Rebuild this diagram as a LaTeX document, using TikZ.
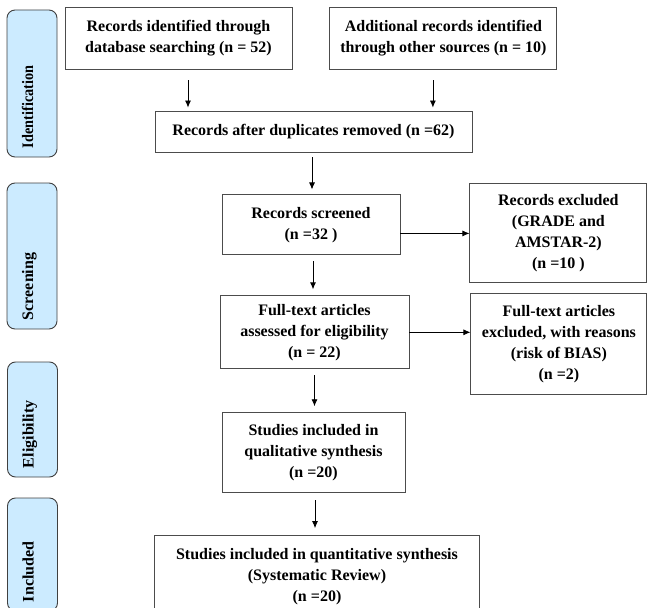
\documentclass[tikz,border=0pt]{standalone}
\usepackage{graphicx}
\usepackage{xcolor}
\usepackage{fontspec}
\setmainfont{Liberation Serif}
\usepackage{tikz}
\usetikzlibrary{arrows.meta, positioning}

\definecolor{phaseblue}{HTML}{CCEBFF}

\begin{document}
\begin{tikzpicture}[
        x=1pt, y=-1pt,
        node distance=40pt and 60pt,
        box/.style={rectangle, draw=black!70, line width=0.9pt, align=center, inner sep=3pt,
            font=\fontsize{16}{21}\selectfont\bfseries},
        phase/.style={rectangle, draw=black!75, fill=phaseblue, line width=0.9pt, rounded corners=8pt,
            rotate=90, minimum height=50pt, inner xsep=9pt, align=left, text height=6pt, text depth=4pt,
            font=\fontsize{16}{21}\selectfont\bfseries},
        every edge/.style={draw, line width=0.8pt, -{Latex[length=7pt,width=6pt]}}
    ]
    \useasboundingbox (0,0) rectangle (647,607);

    % phase labels on the left
    \node[phase, minimum width=147pt, text width=129pt] (ident) at (32,83.5) {\scalebox{0.89}[1]{Identification}};
    \node[phase, minimum width=146pt, text width=128pt] (screen) at (32,256) {Screening};
    \node[phase, minimum width=115pt, text width=97pt] (elig) at (32.5,419.5) {Eligibility};
    \node[phase, minimum width=113pt, text width=95pt] (incl) at (32.5,554.5) {Included};

    % identification
    \node[box, minimum width=227pt, minimum height=62pt] (database) at (178.5,38) {Records identified through\\
        database searching (n = 52)};

    \node[box, minimum width=227pt, minimum height=62pt, right=37pt of database] (other) {Additional records identified\\
        through other sources (n = 10)};

    \node[box, minimum width=317pt, minimum height=41pt] (dedup) at (313.5,131.5) {Records after duplicates removed (n =62)};

    % screening
    \node[box, minimum width=178pt, minimum height=60pt, below=42pt of dedup, xshift=-2.5pt] (screened) {Records screened\\
        (n =32 )};

    \node[box, minimum width=177pt, minimum height=99pt, right=69pt of screened, yshift=-8.5pt] (excluded) {Records excluded\\
        (GRADE and\\
        AMSTAR-2)\\
        (n =10 )};

    \node[box, minimum width=189pt, minimum height=73pt, below=40pt of screened, xshift=3.5pt] (fulltext) {Full-text articles\\
        assessed for eligibility\\
        (n = 22)};

    \node[box, minimum width=176pt, minimum height=101pt, right=61pt of fulltext, yshift=-12pt] (bias) {Full-text articles\\
        excluded, with reasons\\
        (risk of BIAS)\\
        (n =2)};

    % eligibility and included
    \node[box, minimum width=183pt, minimum height=80pt, below=43pt of fulltext, xshift=-1pt] (qualitative) {Studies included in\\
        qualitative synthesis\\
        (n =20)};

    \node[box, minimum width=325pt, minimum height=83pt, below=42pt of qualitative, xshift=3.5pt] (quantitative) {Studies included in quantitative synthesis\\
        (Systematic Review)\\
        (n =20)};

    \draw ([xshift=9.5pt]database.south) edge[shorten <=11pt, shorten >=3pt] ([xshift=9.5pt]database.south |- dedup.north);
    \draw ([xshift=-10.5pt]other.south) edge[shorten <=11pt, shorten >=3pt] ([xshift=-10.5pt]other.south |- dedup.north);
    \draw ([xshift=-1.5pt]dedup.south) edge[shorten <=5pt, shorten >=5pt] ([xshift=-1.5pt]dedup.south |- screened.north);
    \draw ([xshift=2pt]screened.south) edge[shorten <=6pt, shorten >=6pt] ([xshift=2pt]screened.south |- fulltext.north);
    \draw (fulltext.south) edge[shorten <=6pt, shorten >=6pt] (fulltext.south |- qualitative.north);
    \draw ([xshift=1.5pt]qualitative.south) edge[shorten <=7pt, shorten >=7pt] ([xshift=1.5pt]qualitative.south |- quantitative.north);
    \draw (excluded.west -| screened.east) edge (excluded.west);
    \draw (fulltext.east) edge (fulltext.east -| bias.west);

    \end{tikzpicture}
\end{document}
